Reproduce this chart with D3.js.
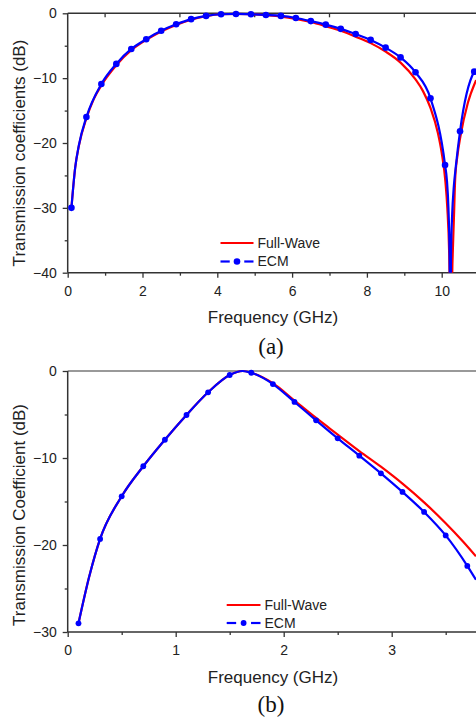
<!DOCTYPE html>
<html>
<head>
<meta charset="utf-8">
<script src="https://cdnjs.cloudflare.com/ajax/libs/d3/7.8.5/d3.min.js"></script>
<style>
html,body{margin:0;padding:0;background:#fff;}
svg{display:block;}
</style>
</head>
<body>
<svg id="chart" width="476" height="719"></svg>
<script>
// ---------- Panel (a) data ----------
const fwFreqA = [0.1,0.2,0.3,0.5,0.7,0.9,1.3,1.7,2.1,2.5,2.9,3.3,3.7,4.1,4.5,4.9,5.3,5.7,6.1,6.5,6.9,7.3,7.7,8.1,8.5,8.9,9.3,9.5,9.7,9.9,10.0,10.1,10.15,10.2,10.24,10.29,10.33,10.36,10.42,10.5,10.7,10.92];
const fwValA  = [-30,-23.8,-20.4,-16.2,-13.2,-11.1,-8.0,-5.7,-4.1,-2.8,-1.8,-1.0,-0.45,-0.15,-0.1,-0.15,-0.3,-0.5,-0.85,-1.35,-2.0,-2.7,-3.6,-4.6,-5.9,-7.6,-10.2,-12.0,-14.6,-18.5,-21.5,-26,-30,-37,-50,-38,-31,-25.6,-22,-19,-13.8,-10.3];
const ecmFreqA = [0.1,0.5,0.9,1.3,1.7,2.1,2.5,2.9,3.3,3.7,4.1,4.5,4.9,5.3,5.7,6.1,6.5,6.9,7.3,7.7,8.1,8.5,8.9,9.3,9.7,10.09,10.49,10.87];
const ecmValA  = [-30,-16,-10.9,-7.8,-5.5,-4.0,-2.7,-1.7,-0.9,-0.4,-0.15,-0.1,-0.15,-0.26,-0.4,-0.72,-1.2,-1.75,-2.4,-3.2,-4.1,-5.3,-6.8,-9.1,-13.1,-23.4,-18.2,-9.0];
// extra ECM line points (between markers)
const ecmLineFreqA = [0.2,0.3,10.14,10.18,10.21,10.23,10.25,10.28,10.32,10.38,10.92];
const ecmLineValA  = [-23.8,-20.3,-25.8,-30,-37,-48,-37,-31,-27,-23.5,-8.6];
const xTicksA = [0,2,4,6,8,10];
const xMinorA = [1,3,5,7,9];
const yTicksA = [0,-10,-20,-30,-40];
const yMinorA = [-5,-15,-25,-35];

// ---------- Panel (b) data ----------
const fwFreqB = [0.1,0.2,0.3,0.5,0.7,0.9,1.1,1.3,1.5,1.62,1.7,1.9,2.1,2.3,2.5,2.7,2.9,3.1,3.3,3.5,3.66,3.78];
const fwValB  = [-29.0,-23.6,-19.3,-14.4,-10.95,-7.9,-5.05,-2.45,-0.46,0,-0.2,-1.4,-3.4,-5.4,-7.3,-9.2,-11.0,-12.95,-15.1,-17.5,-19.6,-21.3];
const ecmFreqB = [0.1,0.3,0.5,0.7,0.9,1.1,1.3,1.5,1.7,1.9,2.1,2.3,2.5,2.7,2.9,3.1,3.3,3.5,3.7];
const ecmValB  = [-29.0,-19.3,-14.4,-10.95,-7.9,-5.06,-2.45,-0.46,-0.2,-1.5,-3.56,-5.67,-7.74,-9.73,-11.76,-13.9,-16.2,-18.9,-22.4];
const ecmLineFreqB = [0.2,1.62,3.78];
const ecmLineValB  = [-23.6,0,-24.0];
const xTicksB = [0,1,2,3];
const xMinorB = [0.5,1.5,2.5,3.5];
const yTicksB = [0,-10,-20,-30];
const yMinorB = [-5,-15,-25];

const seriesNames = ["Full-Wave","ECM"];

const svg = d3.select("#chart");
const RED = "#ff0000", BLUE = "#0000ff", AX = "#333";
const tickFont = "'Liberation Sans', Arial, sans-serif";

function zip(xs, ys){ return xs.map((x,i)=>[x, ys[i]]); }

function panel(cfg){
  const g = svg.append("g");
  const x = d3.scaleLinear().domain(cfg.xDomain).range([cfg.left, cfg.right]);
  const y = d3.scaleLinear().domain(cfg.yDomain).range([cfg.bottom, cfg.top]);

  const clipId = "clip" + cfg.id;
  svg.append("defs").append("clipPath").attr("id", clipId)
    .append("rect").attr("x", cfg.left).attr("y", cfg.top - 6)
    .attr("width", 476 - cfg.left + 10).attr("height", cfg.bottom - cfg.top + 6);

  // top frame line
  g.append("line").attr("x1", cfg.left).attr("x2", 476).attr("y1", cfg.top).attr("y2", cfg.top)
    .attr("stroke", cfg.topColor).attr("stroke-width", 1.5);
  if (cfg.topTicks) {
    g.selectAll(".tt").data(cfg.topTicks).enter().append("line")
      .attr("x1", d=>x(d)).attr("x2", d=>x(d)).attr("y1", cfg.top).attr("y2", cfg.top + 4)
      .attr("stroke", AX).attr("stroke-width", 1.3);
  }

  // bottom axis
  const xAxis = d3.axisBottom(x).tickValues(cfg.xTicks).tickSize(5).tickPadding(8).tickFormat(d3.format("d"));
  const gx = g.append("g").attr("transform", `translate(0,${cfg.bottom})`).call(xAxis);
  const xMinor = d3.axisBottom(x).tickValues(cfg.xMinor).tickSize(3).tickFormat("");
  const gxm = g.append("g").attr("transform", `translate(0,${cfg.bottom})`).call(xMinor);
  gxm.select(".domain").remove();

  // left axis
  const yAxis = d3.axisLeft(y).tickValues(cfg.yTicks).tickSize(5).tickPadding(6).tickFormat(d3.format("d"));
  const gy = g.append("g").attr("transform", `translate(${cfg.left},0)`).call(yAxis);
  const yMinor = d3.axisLeft(y).tickValues(cfg.yMinor).tickSize(3).tickFormat("");
  const gym = g.append("g").attr("transform", `translate(${cfg.left},0)`).call(yMinor);
  gym.select(".domain").remove();

  [gx, gxm, gy, gym].forEach(a=>{
    a.selectAll(".domain").attr("stroke", AX).attr("stroke-width", 1.5);
    a.selectAll(".tick line").attr("stroke", AX).attr("stroke-width", 1.3);
    a.selectAll(".tick text").attr("fill", "#222").style("font-family", tickFont).style("font-size", "14px");
  });
  gx.select(".domain").attr("d", `M${cfg.left},0H476`);
  gy.select(".domain").attr("d", `M0,${cfg.bottom}V${cfg.top}`);

  // curves
  const line = d3.line().x(d=>x(d[0])).y(d=>y(d[1])).curve(d3.curveMonotoneX);
  const plot = g.append("g").attr("clip-path", `url(#${clipId})`);
  const fw = zip(cfg.fwF, cfg.fwV);
  const ecmMarkers = zip(cfg.ecmF, cfg.ecmV);
  const ecmLine = ecmMarkers.concat(zip(cfg.ecmLF, cfg.ecmLV)).sort((a,b)=>a[0]-b[0]);

  plot.append("path").datum(fw).attr("d", line).attr("fill","none")
    .attr("stroke", RED).attr("stroke-width", 2.2);
  plot.append("path").datum(ecmLine).attr("d", line).attr("fill","none")
    .attr("stroke", BLUE).attr("stroke-width", 2.2);
  plot.selectAll("circle").data(ecmMarkers).enter().append("circle")
    .attr("cx", d=>x(d[0])).attr("cy", d=>y(d[1])).attr("r", cfg.mr).attr("fill", BLUE);

  // axis titles
  g.append("text").attr("x", 273).attr("y", cfg.xTitleY).attr("text-anchor","middle")
    .style("font-family", tickFont).style("font-size","17px").attr("fill","#222").text("Frequency (GHz)");
  g.append("text").attr("transform", `translate(25,${cfg.yTitleC}) rotate(-90)`).attr("text-anchor","middle")
    .style("font-family", tickFont).style("font-size","17px").attr("fill","#222").text(cfg.yTitle);

  // legend
  const L = cfg.legend;
  g.append("line").attr("x1", L.x0).attr("x2", L.x1).attr("y1", L.y1).attr("y2", L.y1)
    .attr("stroke", RED).attr("stroke-width", 2.2);
  const lw = L.x1 - L.x0, mid = (L.x0 + L.x1)/2;
  g.append("line").attr("x1", L.x0).attr("x2", L.x0 + lw*0.28).attr("y1", L.y2).attr("y2", L.y2)
    .attr("stroke", BLUE).attr("stroke-width", 2.2);
  g.append("line").attr("x1", L.x1 - lw*0.28).attr("x2", L.x1).attr("y1", L.y2).attr("y2", L.y2)
    .attr("stroke", BLUE).attr("stroke-width", 2.2);
  g.append("circle").attr("cx", mid).attr("cy", L.y2).attr("r", cfg.mr).attr("fill", BLUE);
  g.append("text").attr("x", L.x1 + 4).attr("y", L.y1).attr("dy","0.35em")
    .style("font-family", tickFont).style("font-size","14px").attr("fill","#222").text(seriesNames[0]);
  g.append("text").attr("x", L.x1 + 4).attr("y", L.y2).attr("dy","0.35em")
    .style("font-family", tickFont).style("font-size","14px").attr("fill","#222").text(seriesNames[1]);

  // caption
  g.append("text").attr("x", 271).attr("y", cfg.capY).attr("text-anchor","middle")
    .style("font-family", "'Liberation Serif','Times New Roman',serif").style("font-size","23px")
    .attr("fill","#111").text(cfg.caption);
}

panel({
  id: "a", xDomain:[0, 10.92], yDomain:[-40, 0], left: 67.7, right: 67.7 + 37.4*10.92, top: 13.3, bottom: 272.7,
  xTicks: xTicksA, xMinor: xMinorA, yTicks: yTicksA, yMinor: yMinorA, topTicks: xMinorA, topColor: AX,
  fwF: fwFreqA, fwV: fwValA, ecmF: ecmFreqA, ecmV: ecmValA, ecmLF: ecmLineFreqA, ecmLV: ecmLineValA,
  mr: 3.3, xTitleY: 323, yTitleC: 153, yTitle: "Transmission coefficients (dB)",
  legend: {x0: 220.5, x1: 253.5, y1: 243, y2: 261.5}, capY: 354, caption: "(a)"
});

panel({
  id: "b", xDomain:[0, 3.78], yDomain:[-30, 0], left: 67.7, right: 67.7 + 108*3.78, top: 371, bottom: 632,
  xTicks: xTicksB, xMinor: xMinorB, yTicks: yTicksB, yMinor: yMinorB, topTicks: null, topColor: "#777",
  fwF: fwFreqB, fwV: fwValB, ecmF: ecmFreqB, ecmV: ecmValB, ecmLF: ecmLineFreqB, ecmLV: ecmLineValB,
  mr: 2.9, xTitleY: 683, yTitleC: 515, yTitle: "Transmission Coefficient (dB)",
  legend: {x0: 226.7, x1: 260.5, y1: 605, y2: 623}, capY: 712, caption: "(b)"
});
</script>
</body>
</html>
